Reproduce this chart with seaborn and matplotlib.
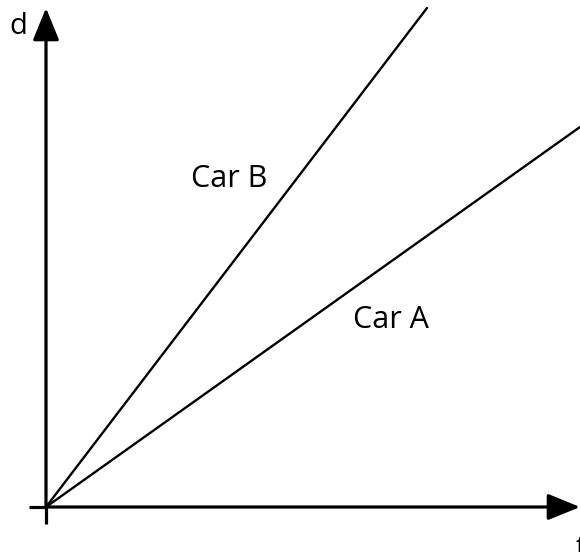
import matplotlib
matplotlib.use("Agg")
import matplotlib.pyplot as plt
import seaborn as sns
import pandas as pd

# данные: время и путь для двух машин (в единицах картинки)
t_car_a = [0, 534]
d_car_a = [0, 380]
t_car_b = [0, 381]
d_car_b = [0, 499]
labels = ["Car A", "Car B"]

sns.set_style("white")
plt.rcParams['font.family'] = ['Open Sans', 'DejaVu Sans']

df = pd.concat([
    pd.DataFrame({"t": t_car_a, "d": d_car_a, "car": labels[0]}),
    pd.DataFrame({"t": t_car_b, "d": d_car_b, "car": labels[1]}),
])

fig = plt.figure(figsize=(5.8, 5.52), dpi=100)
ax = fig.add_axes([0, 0, 1, 1])
ax.set_xlim(-46, 534)
ax.set_ylim(-45, 507)

sns.lineplot(data=df, x="t", y="d", hue="car", palette=["black", "black"],
             linewidth=1.7, legend=False, ax=ax, estimator=None, sort=False)

# оси со стрелками
ax.plot([-17, 0], [0, 0], color="black", lw=2.3, solid_capstyle="butt")
ax.plot([0, 0], [-17, 0], color="black", lw=2.3, solid_capstyle="butt")
ax.annotate("", xy=(534, 0), xytext=(0, 0),
            arrowprops=dict(arrowstyle="-|>,head_length=1.1,head_width=0.45",
                            color="black", lw=2.3, mutation_scale=18,
                            shrinkA=0, shrinkB=0))
ax.annotate("", xy=(0, 499), xytext=(0, 0),
            arrowprops=dict(arrowstyle="-|>,head_length=1.1,head_width=0.45",
                            color="black", lw=2.3, mutation_scale=18,
                            shrinkA=0, shrinkB=0))

ax.text(-28, 480, "d", fontsize=21, ha="center", va="center", color="black")
ax.text(530, -42, "t", fontsize=21, ha="left", va="center", color="black")
ax.text(183, 328, "Car B", fontsize=22, ha="center", va="center", color="black")
ax.text(345, 187, "Car A", fontsize=22, ha="center", va="center", color="black")

ax.set_axis_off()
sns.despine(ax=ax, left=True, bottom=True)
fig.savefig("out.png", dpi=100)
